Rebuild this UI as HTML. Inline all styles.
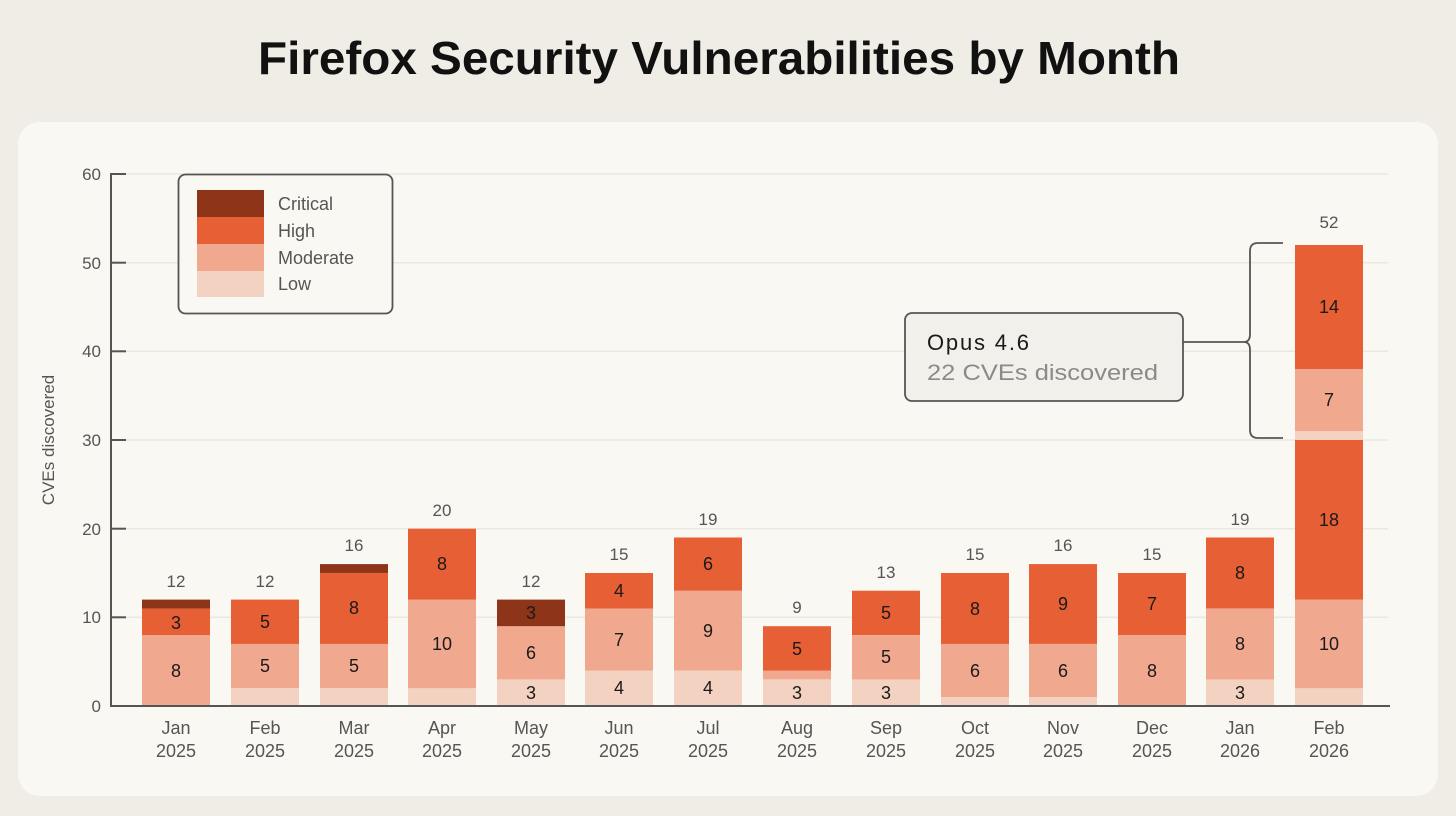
<!DOCTYPE html>
<html><head><meta charset="utf-8"><style>
html,body{margin:0;padding:0;background:#EFEDE6;}
svg{display:block;font-family:"Liberation Sans",sans-serif;}
</style></head><body>
<svg width="1456" height="816" viewBox="0 0 1456 816" xmlns="http://www.w3.org/2000/svg">
<rect width="1456" height="816" fill="#EFEDE6"/>
<text x="258" y="74" font-size="46" font-weight="bold" fill="#111" textLength="922" lengthAdjust="spacingAndGlyphs">Firefox Security Vulnerabilities by Month</text>
<rect x="18" y="122" width="1420" height="674" rx="22" fill="#FAF8F3"/>
<g stroke="#ECE8E0" stroke-width="1.5">
<line x1="126" y1="617.3" x2="1388" y2="617.3"/><line x1="126" y1="528.7" x2="1388" y2="528.7"/>
<line x1="126" y1="440" x2="1388" y2="440"/><line x1="126" y1="351.3" x2="1388" y2="351.3"/>
<line x1="126" y1="262.7" x2="1388" y2="262.7"/><line x1="126" y1="174" x2="1388" y2="174"/>
</g>
<g fill="#555" font-size="17" text-anchor="end">
<text x="101" y="712">0</text><text x="101" y="623">10</text><text x="101" y="535">20</text>
<text x="101" y="446">30</text><text x="101" y="357">40</text><text x="101" y="269">50</text><text x="101" y="180">60</text>
</g>
<text transform="translate(54,440) rotate(-90)" text-anchor="middle" font-size="17" fill="#555">CVEs discovered</text>
<g id="bars">
<rect x="142" y="635.1" width="68" height="70.93" fill="#F0A88E"/><rect x="142" y="608.5" width="68" height="26.6" fill="#E65F35"/><rect x="142" y="599.6" width="68" height="8.87" fill="#8E3418"/>
<rect x="231" y="688.3" width="68" height="17.73" fill="#F4D2C2"/><rect x="231" y="643.9" width="68" height="44.33" fill="#F0A88E"/><rect x="231" y="599.6" width="68" height="44.33" fill="#E65F35"/>
<rect x="320" y="688.3" width="68" height="17.73" fill="#F4D2C2"/><rect x="320" y="643.9" width="68" height="44.33" fill="#F0A88E"/><rect x="320" y="573" width="68" height="70.93" fill="#E65F35"/><rect x="320" y="564.1" width="68" height="8.87" fill="#8E3418"/>
<rect x="408" y="688.3" width="68" height="17.73" fill="#F4D2C2"/><rect x="408" y="599.6" width="68" height="88.67" fill="#F0A88E"/><rect x="408" y="528.7" width="68" height="70.93" fill="#E65F35"/>
<rect x="497" y="679.4" width="68" height="26.6" fill="#F4D2C2"/><rect x="497" y="626.2" width="68" height="53.2" fill="#F0A88E"/><rect x="497" y="599.6" width="68" height="26.6" fill="#8E3418"/>
<rect x="585" y="670.5" width="68" height="35.47" fill="#F4D2C2"/><rect x="585" y="608.5" width="68" height="62.07" fill="#F0A88E"/><rect x="585" y="573" width="68" height="35.47" fill="#E65F35"/>
<rect x="674" y="670.5" width="68" height="35.47" fill="#F4D2C2"/><rect x="674" y="590.7" width="68" height="79.8" fill="#F0A88E"/><rect x="674" y="537.5" width="68" height="53.2" fill="#E65F35"/>
<rect x="763" y="679.4" width="68" height="26.6" fill="#F4D2C2"/><rect x="763" y="670.5" width="68" height="8.87" fill="#F0A88E"/><rect x="763" y="626.2" width="68" height="44.33" fill="#E65F35"/>
<rect x="852" y="679.4" width="68" height="26.6" fill="#F4D2C2"/><rect x="852" y="635.1" width="68" height="44.33" fill="#F0A88E"/><rect x="852" y="590.7" width="68" height="44.33" fill="#E65F35"/>
<rect x="941" y="697.1" width="68" height="8.87" fill="#F4D2C2"/><rect x="941" y="643.9" width="68" height="53.2" fill="#F0A88E"/><rect x="941" y="573" width="68" height="70.93" fill="#E65F35"/>
<rect x="1029" y="697.1" width="68" height="8.87" fill="#F4D2C2"/><rect x="1029" y="643.9" width="68" height="53.2" fill="#F0A88E"/><rect x="1029" y="564.1" width="68" height="79.8" fill="#E65F35"/>
<rect x="1118" y="635.1" width="68" height="70.93" fill="#F0A88E"/><rect x="1118" y="573" width="68" height="62.07" fill="#E65F35"/>
<rect x="1206" y="679.4" width="68" height="26.6" fill="#F4D2C2"/><rect x="1206" y="608.5" width="68" height="70.93" fill="#F0A88E"/><rect x="1206" y="537.5" width="68" height="70.93" fill="#E65F35"/>
<rect x="1295" y="688.3" width="68" height="17.73" fill="#F4D2C2"/><rect x="1295" y="599.6" width="68" height="88.67" fill="#F0A88E"/><rect x="1295" y="440" width="68" height="159.6" fill="#E65F35"/>
<rect x="1295" y="431.1" width="68" height="8.87" fill="#F4D2C2"/><rect x="1295" y="369.1" width="68" height="62.07" fill="#F0A88E"/><rect x="1295" y="245" width="68" height="124.1" fill="#E65F35"/>
</g>
<g fill="#1a1a1a" font-size="18" text-anchor="middle">
<text x="176" y="629">3</text><text x="176" y="677">8</text>
<text x="265" y="628">5</text><text x="265" y="672">5</text>
<text x="354" y="614">8</text><text x="354" y="672">5</text>
<text x="442" y="570">8</text><text x="442" y="650">10</text>
<text x="531" y="619">3</text><text x="531" y="659">6</text><text x="531" y="699">3</text>
<text x="619" y="597">4</text><text x="619" y="646">7</text><text x="619" y="694">4</text>
<text x="708" y="570">6</text><text x="708" y="637">9</text><text x="708" y="694">4</text>
<text x="797" y="655">5</text><text x="797" y="699">3</text>
<text x="886" y="619">5</text><text x="886" y="663">5</text><text x="886" y="699">3</text>
<text x="975" y="615">8</text><text x="975" y="677">6</text>
<text x="1063" y="610">9</text><text x="1063" y="677">6</text>
<text x="1152" y="610">7</text><text x="1152" y="677">8</text>
<text x="1240" y="579">8</text><text x="1240" y="650">8</text><text x="1240" y="699">3</text>
<text x="1329" y="313">14</text><text x="1329" y="406">7</text><text x="1329" y="526">18</text><text x="1329" y="650">10</text>
</g>
<g fill="#555" font-size="17" text-anchor="middle">
<text x="176" y="587">12</text><text x="265" y="587">12</text><text x="354" y="551">16</text><text x="442" y="516">20</text>
<text x="531" y="587">12</text><text x="619" y="560">15</text><text x="708" y="525">19</text><text x="797" y="613">9</text>
<text x="886" y="578">13</text><text x="975" y="560">15</text><text x="1063" y="551">16</text><text x="1152" y="560">15</text>
<text x="1240" y="525">19</text><text x="1329" y="228">52</text>
</g>
<g fill="#555" font-size="18" text-anchor="middle">
<text x="176" y="734">Jan</text><text x="176" y="757">2025</text>
<text x="265" y="734">Feb</text><text x="265" y="757">2025</text>
<text x="354" y="734">Mar</text><text x="354" y="757">2025</text>
<text x="442" y="734">Apr</text><text x="442" y="757">2025</text>
<text x="531" y="734">May</text><text x="531" y="757">2025</text>
<text x="619" y="734">Jun</text><text x="619" y="757">2025</text>
<text x="708" y="734">Jul</text><text x="708" y="757">2025</text>
<text x="797" y="734">Aug</text><text x="797" y="757">2025</text>
<text x="886" y="734">Sep</text><text x="886" y="757">2025</text>
<text x="975" y="734">Oct</text><text x="975" y="757">2025</text>
<text x="1063" y="734">Nov</text><text x="1063" y="757">2025</text>
<text x="1152" y="734">Dec</text><text x="1152" y="757">2025</text>
<text x="1240" y="734">Jan</text><text x="1240" y="757">2026</text>
<text x="1329" y="734">Feb</text><text x="1329" y="757">2026</text>
</g>
<g stroke="#555" stroke-width="2" fill="none">
<line x1="111" y1="173" x2="111" y2="707"/>
<line x1="110" y1="706" x2="1390" y2="706"/>
<line x1="111" y1="174" x2="126" y2="174"/><line x1="111" y1="262.7" x2="126" y2="262.7"/><line x1="111" y1="351.3" x2="126" y2="351.3"/>
<line x1="111" y1="440" x2="126" y2="440"/><line x1="111" y1="528.7" x2="126" y2="528.7"/><line x1="111" y1="617.3" x2="126" y2="617.3"/>
</g>
<rect x="178.5" y="174.5" width="214" height="139" rx="7" fill="#FAF8F3" stroke="#555" stroke-width="1.8"/>
<rect x="197" y="190" width="67" height="27" fill="#8E3418"/>
<rect x="197" y="217" width="67" height="27" fill="#E65F35"/>
<rect x="197" y="244" width="67" height="27" fill="#F0A88E"/>
<rect x="197" y="271" width="67" height="26" fill="#F4D2C2"/>
<g fill="#555" font-size="18">
<text x="278" y="210">Critical</text><text x="278" y="237">High</text><text x="278" y="264">Moderate</text><text x="278" y="290">Low</text>
</g>
<rect x="905" y="313" width="278" height="88" rx="7" fill="#F2F0EB" stroke="#555" stroke-width="1.8"/>
<text x="927" y="350" font-size="22" fill="#1a1a1a" textLength="102">Opus 4.6</text>
<text x="927" y="380" font-size="22" fill="#8a8a8a" textLength="231" lengthAdjust="spacingAndGlyphs">22 CVEs discovered</text>
<path d="M1183 342 H1244 M1283 243 H1258 Q1250 243 1250 251 V334 Q1250 342 1244 342 Q1250 342 1250 350 V430 Q1250 438 1258 438 H1283" stroke="#555" stroke-width="1.8" fill="none"/>
</svg>
</body></html>
